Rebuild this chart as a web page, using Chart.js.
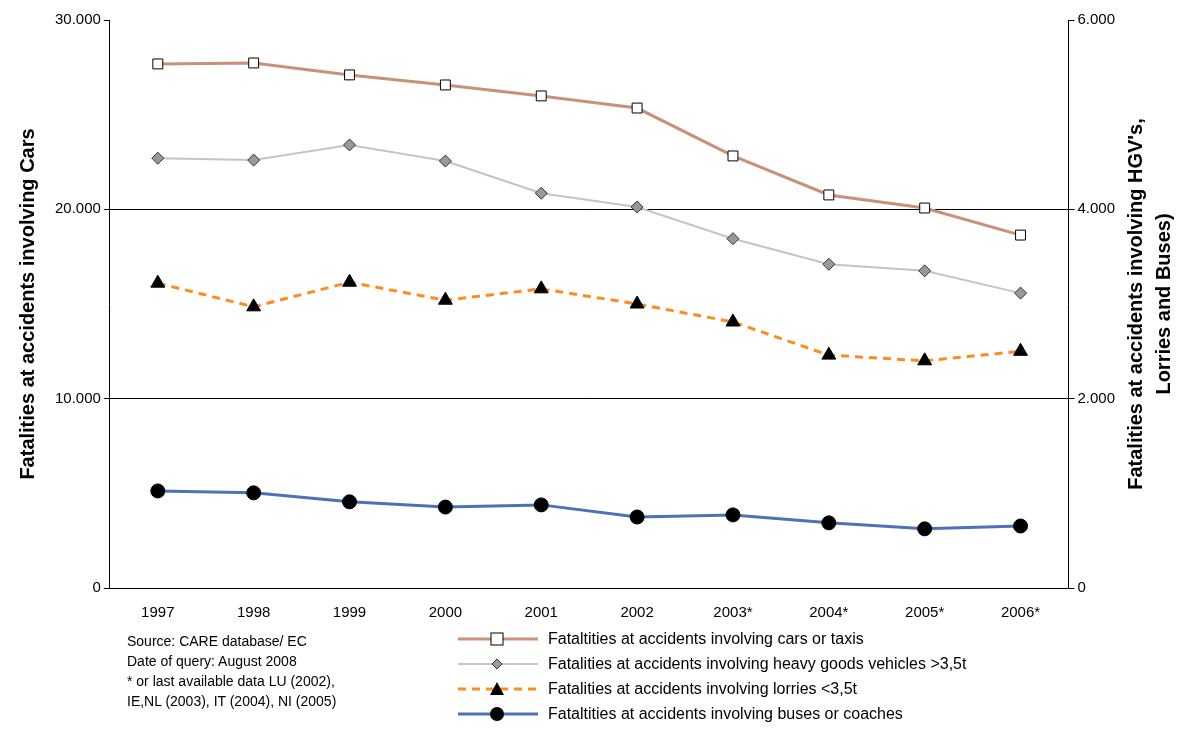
<!DOCTYPE html>
<html>
<head>
<meta charset="utf-8">
<script src="https://cdn.jsdelivr.net/npm/chart.js@4"></script>
<style>
  body { margin: 0; background: #fff; font-family: "Liberation Sans", Arial, sans-serif; }
  #wrap { position: relative; width: 1180px; height: 729px; }
  #source { position: absolute; left: 127px; top: 631px; font-size: 14px; line-height: 20px; color: #000; }
  #legend { position: absolute; left: 456px; top: 626px; font-size: 16px; color: #000; }
  #legend div { height: 25px; display: flex; align-items: center; }
  #legend svg { margin-right: 8px; }
</style>
</head>
<body>
<div id="wrap">
  <canvas id="chart" width="1180" height="729"></canvas>
  <div id="source">Source: CARE database/ EC<br>Date of query: August 2008<br>* or last available data LU (2002),<br>IE,NL (2003), IT (2004), NI (2005)</div>
  <div id="legend"></div>
</div>
<script>
// Jahre und Werte
const years = ['1997', '1998', '1999', '2000', '2001', '2002', '2003*', '2004*', '2005*', '2006*'];
const cars = [27680, 27730, 27100, 26570, 25990, 25350, 22820, 20760, 20070, 18640];
const hgv = [4540, 4520, 4680, 4510, 4170, 4025, 3690, 3420, 3350, 3115];
const lorries = [3220, 2970, 3230, 3040, 3160, 3000, 2810, 2460, 2400, 2500];
const buses = [1025, 1005, 910, 855, 878, 750, 772, 688, 625, 655];

const fmt = v => v === 0 ? '0' : v.toLocaleString('de-DE', { minimumFractionDigits: 0 });

const series = [
  { label: 'Fataltities at accidents involving cars or taxis', data: cars, yAxisID: 'y',
    borderColor: '#c8917a', borderWidth: 3, pointStyle: 'rect', pointRadius: 7,
    pointBackgroundColor: '#fff', pointBorderColor: '#000', pointBorderWidth: 1 },
  { label: 'Fatalities at accidents involving heavy goods vehicles >3,5t', data: hgv, yAxisID: 'y2',
    borderColor: '#c4c4c4', borderWidth: 2, pointStyle: 'rectRot', pointRadius: 6,
    pointBackgroundColor: '#999', pointBorderColor: '#333', pointBorderWidth: 1 },
  { label: 'Fatalities at accidents involving lorries <3,5t', data: lorries, yAxisID: 'y2',
    borderColor: '#ff8c1a', borderWidth: 3, borderDash: [8, 6], pointStyle: 'triangle', pointRadius: 8,
    pointBackgroundColor: '#000', pointBorderColor: '#000', pointBorderWidth: 1 },
  { label: 'Fataltities at accidents involving buses or coaches', data: buses, yAxisID: 'y2',
    borderColor: '#4a72b8', borderWidth: 3, pointStyle: 'circle', pointRadius: 7,
    pointBackgroundColor: '#000', pointBorderColor: '#000', pointBorderWidth: 1 }
];
series.forEach(s => { s.fill = false; s.tension = 0; });

const markers = [
  '<rect x="35" y="6" width="12" height="12" fill="#fff" stroke="#000"/>',
  '<polygon points="41,7 46,12 41,17 36,12" fill="#999" stroke="#333"/>',
  '<polygon points="41,5 48,18 34,18" fill="#000"/>',
  '<circle cx="41" cy="12" r="7" fill="#000"/>'
];
const legend = document.getElementById('legend');
series.forEach((s, i) => {
  const dash = s.borderDash ? 'stroke-dasharray="8 6"' : '';
  legend.innerHTML += '<div><svg width="84" height="24"><line x1="2" y1="12" x2="82" y2="12" stroke="' +
    s.borderColor + '" stroke-width="' + s.borderWidth + '" ' + dash + '/>' + markers[i] + '</svg>' + s.label + '</div>';
});

// rechter Achsentitel von unten nach oben lesbar
const rightTitle = {
  id: 'rightTitle',
  afterDraw(chart) {
    const c = chart.ctx, a = chart.chartArea;
    c.save();
    c.fillStyle = '#000';
    c.font = 'bold 20px "Liberation Sans"';
    c.textAlign = 'center';
    c.textBaseline = 'middle';
    c.translate(1136, (a.top + a.bottom) / 2);
    c.rotate(-Math.PI / 2);
    c.fillText('Fatalities at accidents involving HGV\'s,', 0, 0);
    c.fillText('Lorries and Buses)', 0, 28);
    c.restore();
  }
};

const ctx = document.getElementById('chart').getContext('2d');
new Chart(ctx, {
  type: 'line',
  data: { labels: years, datasets: series },
  options: {
    responsive: false,
    animation: false,
    layout: { padding: { left: 12, right: 62, top: 20, bottom: 99 } },
    plugins: { legend: { display: false }, tooltip: { enabled: false } },
    scales: {
      x: {
        offset: true,
        grid: { display: false, offset: true },
        border: { color: '#000' },
        ticks: { color: '#000', padding: 8, font: { size: 15, family: 'Liberation Sans' } }
      },
      y: {
        position: 'left', min: 0, max: 30000,
        ticks: { stepSize: 10000, color: '#000', callback: fmt, font: { size: 15, family: 'Liberation Sans' } },
        grid: { color: ctx => (ctx.tick.value === 0 || ctx.tick.value === 30000) ? 'rgba(0,0,0,0)' : '#000',
                tickColor: '#000', tickLength: 6 },
        border: { color: '#000' },
        title: { display: true, text: 'Fatalities at accidents involving Cars', color: '#000', padding: { bottom: 12 },
                 font: { size: 20, weight: 'bold', family: 'Liberation Sans' } }
      },
      y2: {
        position: 'right', min: 0, max: 6000,
        ticks: { stepSize: 2000, color: '#000', callback: fmt, font: { size: 15, family: 'Liberation Sans' } },
        grid: { drawOnChartArea: false, tickColor: '#000', tickLength: 6 },
        border: { color: '#000' }
      }
    }
  },
  plugins: [rightTitle]
});
</script>
</body>
</html>
